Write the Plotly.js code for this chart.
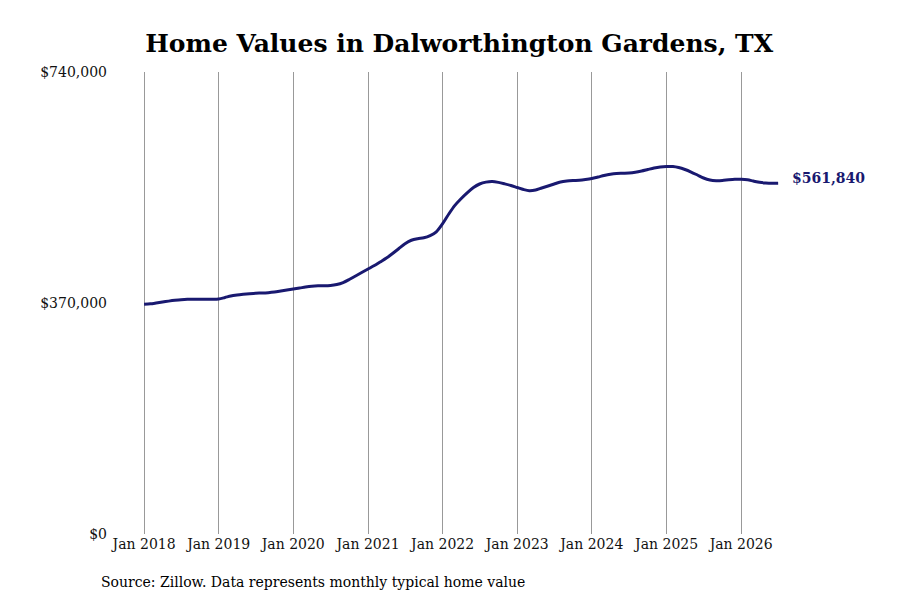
<!DOCTYPE html>
<html>
<head>
<meta charset="utf-8">
<script src="https://cdn.plot.ly/plotly-3.0.1.min.js"></script>
<style>
  body { margin: 0; background: #fff; }
  #graph { width: 900px; height: 600px; }
</style>
</head>
<body>
<div id="graph"></div>
<script>
// monthly typical home value, Jan 2018 .. Jul 2026
var startYear = 2018;
var homeValues = [
    368000, 368700, 370000, 371600, 373000, 374300, 375300, 375900, 376000, 376000, 375900, 375900,
    376400, 378800, 381200, 382800, 383900, 384900, 385700, 386000, 386600, 387600, 389200, 390800,
    392400, 394000, 395600, 396900, 397500, 397500, 398000, 399600, 402800, 407600, 413200, 418800,
    424500, 430000, 435700, 442000, 449300, 457300, 465000, 470500, 473000, 474500, 478000, 484000,
    497000, 513000, 526000, 537000, 546500, 555000, 560600, 563600, 564600, 563200, 560800, 558200,
    555000, 551800, 549900, 551000, 554200, 557400, 560600, 563800, 565400, 566200, 566700, 567800,
    569400, 571800, 574200, 576200, 577400, 577800, 578200, 579400, 581400, 583800, 586200, 587800,
    588600, 588600, 587000, 583800, 579800, 575000, 570200, 567000, 565900, 566200, 567300, 568100,
    568100, 567300, 565400, 563300, 562200, 561700, 561840
];
var yTicks = [0, 370000, 740000];
var yTickLabels = ['$0', '$370,000', '$740,000'];
var xTicks = ['2018-01-01', '2019-01-01', '2020-01-01', '2021-01-01', '2022-01-01',
              '2023-01-01', '2024-01-01', '2025-01-01', '2026-01-01'];
var xTickLabels = ['Jan 2018', 'Jan 2019', 'Jan 2020', 'Jan 2021', 'Jan 2022',
                   'Jan 2023', 'Jan 2024', 'Jan 2025', 'Jan 2026'];

function monthDate(i) {
    var y = startYear + Math.floor(i / 12);
    var m = (i % 12) + 1;
    return y + '-' + (m < 10 ? '0' + m : m) + '-01';
}

var dates = homeValues.map(function (v, i) { return monthDate(i); });
var lastDate = dates[dates.length - 1];
var lastValue = homeValues[homeValues.length - 1];

var serif = 'DejaVu Serif, serif';
var navy = '#191970';

var trace = {
    x: dates,
    y: homeValues,
    type: 'scatter',
    mode: 'lines',
    line: { color: navy, width: 3, shape: 'spline', smoothing: 0.8 },
    hoverinfo: 'skip'
};

// plot area: x 112..790, y 72..534
var layout = {
    width: 900,
    height: 600,
    margin: { l: 112, r: 110, t: 72, b: 66 },
    paper_bgcolor: '#fff',
    plot_bgcolor: '#fff',
    showlegend: false,
    font: { family: serif, color: '#111', size: 14 },
    title: {
        text: '<b>Home Values in Dalworthington Gardens, TX</b>',
        font: { family: serif, size: 25, color: '#000' },
        x: 0.512, xanchor: 'center', xref: 'paper',
        y: 0.928, yanchor: 'middle', yref: 'container'
    },
    xaxis: {
        type: 'date',
        range: ['2017-07-28', '2026-08-28'],
        tickvals: xTicks,
        ticktext: xTickLabels,
        showgrid: true,
        gridcolor: '#999',
        gridwidth: 1,
        zeroline: false,
        showline: false,
        ticks: '',
        tickfont: { family: serif, size: 14, color: '#111' }
    },
    yaxis: {
        range: [0, 740000],
        tickvals: yTicks,
        ticktext: yTickLabels,
        showgrid: false,
        zeroline: false,
        showline: false,
        ticks: '',
        ticklabelstandoff: 4,
        tickfont: { family: serif, size: 14, color: '#111' }
    },
    annotations: [
        {
            x: lastDate, y: lastValue, xref: 'x', yref: 'y',
            text: '<b>$' + lastValue.toLocaleString('en-US') + '</b>',
            showarrow: false, xanchor: 'left', yanchor: 'middle',
            xshift: 12, yshift: 5,
            font: { family: serif, size: 14, color: navy }
        },
        {
            x: (99 - 112) / 678, y: (534 - 582) / 462, xref: 'paper', yref: 'paper',
            xanchor: 'left', yanchor: 'middle',
            text: 'Source: Zillow. Data represents monthly typical home value',
            showarrow: false,
            font: { family: serif, size: 14, color: '#000' }
        }
    ]
};

Plotly.newPlot('graph', [trace], layout, { displayModeBar: false, staticPlot: true });
</script>
</body>
</html>
